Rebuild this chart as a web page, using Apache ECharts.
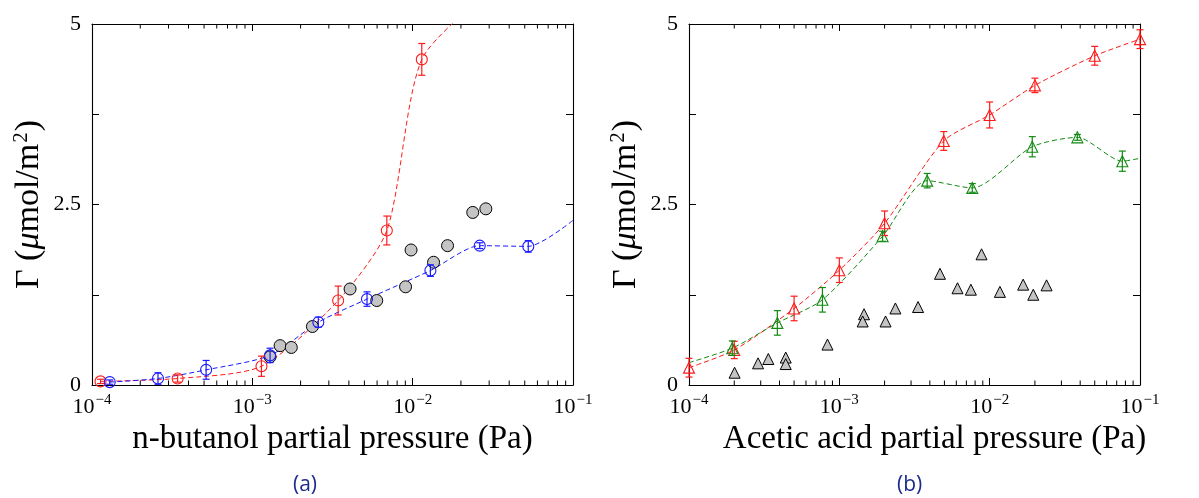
<!DOCTYPE html>
<html><head><meta charset="utf-8">
<script src="https://cdn.jsdelivr.net/npm/echarts@6/dist/echarts.min.js"></script>
<style>html,body{margin:0;padding:0;background:#fff}#c{width:1199px;height:498px}</style>
</head><body><div id="c"></div><script>
// ---------- DATA ----------
// Panel (a): n-butanol partial pressure (Pa) vs Gamma (umol/m2); [x, y, err]
const butanolRed = [[1.13e-4,0.05,0.03],[3.42e-4,0.09,0.05],[1.14e-3,0.26,0.14],[3.43e-3,1.17,0.2],[6.9e-3,2.14,0.2],[1.14e-2,4.51,0.22]];
const butanolRedLineTail = [[3.0e-2,5.45]];
const butanolBlue = [[1.29e-4,0.04,0.03],[2.58e-4,0.09,0.08],[5.15e-4,0.21,0.13],[1.29e-3,0.41,0.1],[2.58e-3,0.87,0.07],[5.19e-3,1.19,0.1],[1.29e-2,1.585,0.08],[2.62e-2,1.93,0.04],[5.26e-2,1.92,0.08]];
const butanolBlueLineTail = [[0.1,2.28]];
const butanolGrey = [[1.29e-3,0.39],[1.49e-3,0.545],[1.75e-3,0.52],[2.37e-3,0.81],[4.07e-3,1.33],[5.97e-3,1.17],[9.03e-3,1.36],[9.77e-3,1.87],[1.35e-2,1.7],[1.65e-2,1.93],[2.37e-2,2.39],[2.86e-2,2.44]];
// Panel (b): acetic acid partial pressure (Pa)
const aceticRed = [[1.0e-4,0.24,0.13],[2.0e-4,0.485,0.12],[5.0e-4,1.06,0.17],[1.0e-3,1.59,0.17],[2.0e-3,2.24,0.17],[4.95e-3,3.38,0.13],[1.0e-2,3.74,0.18],[2.0e-2,4.15,0.1],[5.0e-2,4.56,0.13],[1.0e-1,4.79,0.13]];
const aceticGreen = [[1.94e-4,0.51,0.1],[3.87e-4,0.86,0.17],[7.72e-4,1.18,0.17],[1.94e-3,2.06,0.07],[3.84e-3,2.83,0.1],[7.66e-3,2.73,0.06],[1.92e-2,3.30,0.14],[3.83e-2,3.43,0.04],[7.63e-2,3.10,0.14]];
const aceticGreenLineHead = [[1.0e-4,0.31]];
const aceticGreenLineTail = [[1.0e-1,3.14]];
const aceticGrey = [[2.01e-4,0.17],[2.88e-4,0.30],[3.37e-4,0.36],[4.4e-4,0.38],[4.4e-4,0.29],[8.34e-4,0.56],[1.46e-3,0.98],[1.43e-3,0.88],[2.03e-3,0.88],[2.36e-3,1.06],[3.34e-3,1.08],[4.67e-3,1.54],[6.11e-3,1.34],[7.5e-3,1.32],[8.83e-3,1.81],[1.17e-2,1.29],[1.67e-2,1.39],[1.95e-2,1.25],[2.39e-2,1.38]];
// axis ticks
const xMin = 1e-4, xMax = 1e-1;
const yTicksLabeled = [0, 2.5, 5];
const minorTicks = [];
for (let e = -4; e <= -2; e++) for (let k = 2; k <= 9; k++) minorTicks.push(k * Math.pow(10, e));

// ---------- STYLE ----------
const RED = '#ff1a1a', BLUE = '#1a1aff', GREEN = '#138a13', GREY = '#c4c4c4';
const SERIF = "Liberation Serif";
const grids = [
  {left: 92, top: 24, width: 481, height: 361},
  {left: 689, top: 24, width: 451, height: 361}
];

function xAxes(gi, name, namePad) {
  const base = {
    type: 'log', logBase: 10, min: xMin, max: xMax, gridIndex: gi,
    splitLine: {show: false},
    axisLine: {show: true, onZero: false, lineStyle: {color: '#000', width: 1.1}},
    axisTick: {show: true, inside: true, length: 7, lineStyle: {color: '#000', width: 1}},
    minorTick: {show: false}
  };
  return [
    Object.assign({}, base, {
      position: 'bottom', name: name, nameLocation: 'middle', nameGap: 33,
      nameTextStyle: {fontFamily: SERIF, fontSize: 33, color: '#000', padding: namePad},
      axisLabel: {
        show: true, margin: 9, showMinLabel: true, showMaxLabel: true,
        formatter: function (v) { const e = Math.round(Math.log10(v)); return '{b|10}{s|\u2212' + (-e) + '}'; },
        rich: {
          b: {fontFamily: SERIF, fontSize: 22, color: '#000', verticalAlign: 'bottom', lineHeight: 24},
          s: {fontFamily: SERIF, fontSize: 15, color: '#000', verticalAlign: 'bottom', padding: [0, 0, 10, 1], lineHeight: 15}
        }
      }
    }),
    Object.assign({}, base, {position: 'top', axisLabel: {show: false}})
  ];
}
function yAxes(gi) {
  const base = {
    type: 'value', min: 0, max: 5, interval: 1.25, gridIndex: gi,
    splitLine: {show: false},
    axisLine: {show: true, onZero: false, lineStyle: {color: '#000', width: 1.1}},
    axisTick: {show: true, inside: true, length: 7, lineStyle: {color: '#000', width: 1}}
  };
  return [
    Object.assign({}, base, {
      position: 'left',
      name: '{g|\u0393 (}{i|\u03bc}{g|mol/m}{s|2}{g|)}', nameLocation: 'middle', nameGap: 46,
      nameTextStyle: {
        fontFamily: SERIF, fontSize: 34, color: '#000',
        rich: {
          g: {fontFamily: SERIF, fontSize: 34, color: '#000', verticalAlign: 'bottom', lineHeight: 36},
          i: {fontFamily: SERIF, fontSize: 34, fontStyle: 'italic', color: '#000', verticalAlign: 'bottom', lineHeight: 36},
          s: {fontFamily: SERIF, fontSize: 21, color: '#000', verticalAlign: 'bottom', padding: [0, 1, 14, 1], lineHeight: 21}
        }
      },
      axisLabel: {
        show: true, margin: 11, fontFamily: SERIF, fontSize: 22, color: '#000',
        formatter: function (v) { return yTicksLabeled.indexOf(v) >= 0 ? String(v) : ''; }
      }
    }),
    Object.assign({}, base, {position: 'right', axisLabel: {show: false}})
  ];
}

function lineSeries(xi, data, color, smooth) {
  return {type: 'line', xAxisIndex: xi, yAxisIndex: xi, data: data, showSymbol: false, smooth: smooth,
    clip: true, silent: true, z: 2,
    lineStyle: {color: color, width: 1, type: [5, 3]}};
}
function markerSeries(xi, data, symbol, size, color, fill) {
  return {type: 'scatter', xAxisIndex: xi, yAxisIndex: xi, data: data.map(d => [d[0], d[1]]),
    symbol: symbol, symbolSize: size, silent: true, z: fill ? 3 : 4,
    itemStyle: {color: fill || 'rgba(255,255,255,0)', borderColor: color, borderWidth: fill ? 1 : 1.1, opacity: 1}};
}
function errSeries(xi, data, color) {
  return {type: 'custom', xAxisIndex: xi, yAxisIndex: xi, data: data, silent: true, z: 5,
    encode: {x: 0, y: 1},
    renderItem: function (params, api) {
      const x = api.value(0), y = api.value(1), e = api.value(2);
      const hi = api.coord([x, y + e]), lo = api.coord([x, y - e]);
      const w = 3.5, st = {stroke: color, lineWidth: 1.2};
      return {type: 'group', children: [
        {type: 'line', shape: {x1: hi[0], y1: hi[1], x2: lo[0], y2: lo[1]}, style: st},
        {type: 'line', shape: {x1: hi[0] - w, y1: hi[1], x2: hi[0] + w, y2: hi[1]}, style: st},
        {type: 'line', shape: {x1: lo[0] - w, y1: lo[1], x2: lo[0] + w, y2: lo[1]}, style: st}
      ]};
    }};
}
function minorTickSeries(xi) {
  return {type: 'custom', xAxisIndex: xi, yAxisIndex: xi, data: minorTicks.map(v => [v, 0]),
    silent: true, z: 6, clip: false, encode: {x: 0, y: 1},
    renderItem: function (params, api) {
      const p = api.coord([api.value(0), 0]);
      const cs = params.coordSys, L = 4.5, st = {stroke: '#000', lineWidth: 1};
      const yb = cs.y + cs.height, yt = cs.y;
      return {type: 'group', children: [
        {type: 'line', shape: {x1: p[0], y1: yb, x2: p[0], y2: yb - L}, style: st},
        {type: 'line', shape: {x1: p[0], y1: yt, x2: p[0], y2: yt + L}, style: st}
      ]};
    }};
}

const option = {
  animation: false,
  backgroundColor: '#fff',
  grid: grids,
  xAxis: [].concat(xAxes(0, 'n-butanol partial pressure (Pa)', [0, 0, 0, 0]),
                   xAxes(1, 'Acetic acid partial pressure (Pa)', [0, 0, 0, 40])),
  yAxis: [].concat(yAxes(0), yAxes(1)),
  series: [
    // panel (a)
    lineSeries(0, butanolRed.map(d => [d[0], d[1]]).concat(butanolRedLineTail), RED, 0.25),
    lineSeries(0, butanolBlue.map(d => [d[0], d[1]]).concat(butanolBlueLineTail), BLUE, 0.25),
    markerSeries(0, butanolGrey, 'circle', 12, '#000', GREY),
    markerSeries(0, butanolRed, 'circle', 11, RED, null),
    markerSeries(0, butanolBlue, 'circle', 11, BLUE, null),
    errSeries(0, butanolRed, RED),
    errSeries(0, butanolBlue, BLUE),
    minorTickSeries(0),
    // panel (b)
    lineSeries(2, aceticRed.map(d => [d[0], d[1]]), RED, 0.25),
    lineSeries(2, aceticGreenLineHead.concat(aceticGreen.map(d => [d[0], d[1]])).concat(aceticGreenLineTail), GREEN, 0.25),
    markerSeries(2, aceticGrey, 'triangle', 11, '#000', GREY),
    markerSeries(2, aceticRed, 'triangle', 11, RED, null),
    markerSeries(2, aceticGreen, 'triangle', 11, GREEN, null),
    errSeries(2, aceticRed, RED),
    errSeries(2, aceticGreen, GREEN),
    minorTickSeries(2)
  ],
  graphic: [
    {type: 'text', left: 293, top: 475, style: {text: '(a)', fontFamily: "Open Sans", fontSize: 21, fill: '#1e2a8c'}},
    {type: 'text', left: 897, top: 475, style: {text: '(b)', fontFamily: "Open Sans", fontSize: 21, fill: '#1e2a8c'}}
  ]
};
const chart = echarts.init(document.getElementById('c'), null, {renderer: 'canvas'});
chart.setOption(option);
</script></body></html>
